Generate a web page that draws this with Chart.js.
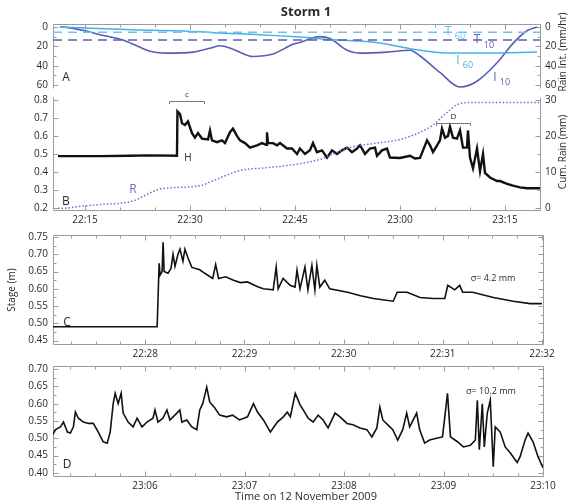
<!DOCTYPE html>
<html><head><meta charset="utf-8">
<script src="https://cdn.jsdelivr.net/npm/chart.js@4"></script>
<style>
html,body{margin:0;padding:0;background:#fff;}
#wrap{position:relative;width:571px;height:503px;overflow:hidden;}
canvas{position:absolute;left:0;top:0;}
</style></head><body>
<div id="wrap">
<canvas id="cA" width="571" height="503"></canvas>
<canvas id="cB" width="571" height="503"></canvas>
<canvas id="cC" width="571" height="503"></canvas>
<canvas id="cD" width="571" height="503"></canvas>
</div>
<script>
// ---------- DATA (time = minutes after 22:00 on 12 Nov 2009) ----------
// Panel A: rain intensity (mm/hr)
const i10Time  = [11.43,12.86,15.0,17.14,20.43,22.86,24.29,26.71,30.43,32.86,34.29,36.14,39.0,41.86,44.71,45.71,48.57,50.0,52.43,54.29,58.14,61.43,62.86,65.71,68.57,71.0,73.86,76.14,78.14,79.57];
const i10Value = [0,1,4,8,13.5,21,25,27,26,22,19.5,23,30.5,28,18,16,10,12,24,27,26,24,30,47,62,56,37,17,4,0];
const i60Time  = [11.43,21.86,31.43,33.29,40.0,45.71,50.0,57.14,61.86,66.71,72.43,79.57];
const i60Value = [0,3,5,6,8,10.5,13,16.5,23,27,27,26];
const t60Level = 5.6;
const t10Level = 13.5;
const aTickValues = [0,20,40,60];

// Panel B: stage H (m) and cumulative rain R (mm)
const stageBTime = [11.14,17.14,21.43,24.29,28.14,28.21,28.57,28.86,29.29,29.71,
 30.29,30.71,31.14,31.71,32.57,32.86,33.14,33.86,34.57,35.0,
 35.71,36.14,36.71,37.14,37.86,38.57,39.57,40.29,40.86,41.0,
 41.14,41.86,42.43,42.86,43.86,44.57,45.29,45.71,46.43,47.14,
 47.57,48.14,48.86,49.57,50.29,51.0,51.71,52.43,53.14,53.86,
 54.29,55.0,55.71,56.43,56.71,57.43,58.14,58.57,60.0,61.43,
 62.14,62.86,63.29,63.86,64.29,64.71,65.29,65.71,66.0,66.43,
 66.86,67.14,67.57,68.14,68.57,69.0,69.57,69.71,70.0,70.43,
 71.0,71.43,71.86,72.14,72.86,73.86,74.29,75.29,76.14,77.14,
 78.14,80.0];
const stageBValue = [0.488,0.488,0.49,0.492,0.49,0.735,0.72,0.67,0.66,0.68,
 0.615,0.59,0.615,0.585,0.58,0.63,0.575,0.565,0.575,0.56,
 0.62,0.64,0.60,0.575,0.56,0.535,0.548,0.56,0.55,0.62,
 0.56,0.56,0.548,0.56,0.53,0.53,0.50,0.53,0.50,0.52,
 0.56,0.51,0.52,0.48,0.52,0.50,0.52,0.535,0.51,0.53,
 0.548,0.50,0.53,0.535,0.49,0.52,0.53,0.48,0.478,0.49,
 0.475,0.478,0.52,0.575,0.548,0.51,0.548,0.575,0.64,0.59,
 0.60,0.65,0.59,0.585,0.63,0.535,0.535,0.63,0.48,0.42,
 0.53,0.405,0.50,0.395,0.37,0.35,0.35,0.335,0.325,0.315,
 0.31,0.31];
const rainTime = [11.14,11.86,14.71,17.14,21.86,24.29,25.71,31.43,33.29,37.14,41.0,45.71,48.57,50.43,52.86,56.71,60.0,62.86,64.71,66.43,68.14,69.57,80.0];
const rainCum  = [0,0,0.6,1,2,4.2,5.3,6.2,7.6,10.4,11.2,12.3,13.5,15,16.8,18,19,21,23,26,28.6,29.2,29.2];
const bTickValues = [15,30,45,60,75];
const bTickLabels = ['22:15','22:30','22:45','23:00','23:15'];
const bStageTicks = [0.2,0.3,0.4,0.5,0.6,0.7,0.8];
const bRainTicks = [0,10,20,30];

// Panel C: zoom of the rising limb (sigma = 4.2 mm)
const stageCTime = [27.06,27.55,28.12,28.14,28.15,28.17,28.18,28.19,28.23,28.26,
 28.28,28.30,28.33,28.35,28.38,28.40,28.43,28.47,28.55,28.60,
 28.68,28.71,28.74,28.81,28.89,28.96,29.03,29.09,29.14,29.19,
 29.26,29.29,29.32,29.34,29.39,29.46,29.51,29.53,29.56,29.61,
 29.64,29.68,29.71,29.73,29.76,29.81,29.86,30.04,30.17,30.30,
 30.50,30.54,30.64,30.77,30.90,31.02,31.05,31.12,31.17,31.20,
 31.30,31.51,31.71,31.88,32.0];
const stageCValue = [0.49,0.49,0.49,0.674,0.64,0.65,0.735,0.65,0.645,0.66,
 0.70,0.665,0.70,0.715,0.68,0.715,0.69,0.662,0.655,0.645,
 0.63,0.670,0.63,0.635,0.625,0.618,0.62,0.612,0.605,0.60,
 0.598,0.597,0.663,0.60,0.63,0.61,0.605,0.654,0.60,0.663,
 0.597,0.668,0.597,0.668,0.605,0.625,0.60,0.59,0.58,0.572,
 0.564,0.59,0.59,0.575,0.572,0.572,0.61,0.597,0.61,0.59,
 0.59,0.575,0.564,0.557,0.557];
const cTickValues = [28,29,30,31,32];
const cTickLabels = ['22:28','22:29','22:30','22:31','22:32'];
const cStageTicks = [0.45,0.50,0.55,0.60,0.65,0.70,0.75];
const cRange = [27.07,32.01];

// Panel D: zoom of the peak (sigma = 10.2 mm)
const stageDTime = [65.07,65.10,65.15,65.18,65.22,65.25,65.28,65.30,65.33,65.38,
 65.43,65.48,65.53,65.58,65.62,65.65,65.68,65.70,65.73,65.76,
 65.78,65.83,65.88,65.92,65.97,66.02,66.08,66.10,66.13,66.18,
 66.22,66.25,66.30,66.35,66.37,66.42,66.47,66.52,66.55,66.58,
 66.62,66.65,66.70,66.75,66.82,66.88,66.95,67.03,67.09,67.13,
 67.19,67.26,67.33,67.39,67.43,67.46,67.51,67.56,67.59,67.64,
 67.69,67.74,67.79,67.84,67.91,67.96,68.03,68.09,68.16,68.23,
 68.28,68.33,68.36,68.39,68.44,68.49,68.54,68.59,68.63,68.66,
 68.73,68.76,68.81,68.86,68.93,68.99,69.04,69.07,69.14,69.20,
 69.27,69.32,69.34,69.36,69.39,69.41,69.44,69.47,69.50,69.52,
 69.57,69.62,69.67,69.74,69.77,69.82,69.85,69.90,69.95,70.0];
const stageDValue = [0.51,0.525,0.533,0.547,0.518,0.515,0.533,0.576,0.558,0.547,
 0.543,0.543,0.518,0.49,0.486,0.518,0.60,0.63,0.60,0.63,
 0.573,0.547,0.533,0.558,0.533,0.547,0.558,0.582,0.547,0.558,
 0.582,0.553,0.567,0.582,0.547,0.553,0.533,0.525,0.582,0.60,
 0.648,0.605,0.588,0.567,0.562,0.567,0.553,0.562,0.60,0.576,
 0.553,0.518,0.547,0.562,0.576,0.562,0.63,0.596,0.582,0.558,
 0.547,0.567,0.553,0.53,0.573,0.562,0.543,0.539,0.53,0.525,
 0.504,0.53,0.59,0.553,0.539,0.525,0.495,0.525,0.573,0.533,
 0.573,0.525,0.486,0.495,0.50,0.504,0.63,0.504,0.49,0.475,
 0.48,0.495,0.61,0.467,0.60,0.475,0.573,0.61,0.418,0.533,
 0.518,0.475,0.458,0.43,0.447,0.495,0.515,0.49,0.447,0.415];
const dTickValues = [66,67,68,69,70];
const dTickLabels = ['23:06','23:07','23:08','23:09','23:10'];
const dStageTicks = [0.40,0.45,0.50,0.55,0.60,0.65,0.70];
const dRange = [65.075,70.0];

// ---------- STYLE / HELPERS ----------
const FF = "'Open Sans','Liberation Sans',Arial,sans-serif";
const DARKBLUE = '#5a5db4', LIGHTBLUE = '#45b2e6', DASHLIGHT = '#6cc6f0', RAINBLUE = '#6a6fd2';
const TXT = '#2a2a2a';
const abRange = [10.43, 80.0];

function pts(xs, ys){ return xs.map((x,i)=>({x:x, y:ys[i]})); }
function setTicks(vals){ return s => { s.ticks = vals.map(v=>({value:v})); }; }
function steps(a,b,d){ const r=[]; for(let v=a; v<=b+1e-9; v+=d) r.push(+v.toFixed(4)); return r; }
const hideGrid = {display:false, drawTicks:false};
const noBorder = {display:false};
const tickFont = {family:FF, size:10};

function drawText(ctx, it){
  ctx.save();
  ctx.font = (it.weight||'normal') + ' ' + (it.size||10) + 'px ' + FF;
  ctx.fillStyle = it.color || TXT;
  ctx.textAlign = it.align || 'center';
  ctx.textBaseline = 'middle';
  ctx.translate(it.x, it.y);
  if (it.rot) ctx.rotate(it.rot);
  ctx.fillText(it.text, 0, 0);
  ctx.restore();
}
function makeTexts(items){
  return {id:'texts', afterDraw(chart){ items.forEach(it=>drawText(chart.ctx, it)); }};
}
function makeFrame(cfg){
  return {id:'frame', beforeDatasetsDraw(chart){
    const ctx = chart.ctx, ca = chart.chartArea, xs = chart.scales.x;
    const L=Math.round(ca.left)+0.5, R=Math.round(ca.right)+0.5, T=Math.round(ca.top)+0.5, B=Math.round(ca.bottom)+0.5;
    ctx.save();
    ctx.strokeStyle = '#9c9c9c'; ctx.lineWidth = 1;
    ctx.beginPath();
    if (cfg.top){ ctx.moveTo(L,T); ctx.lineTo(R,T); }
    if (cfg.bottom){ ctx.moveTo(L,B); ctx.lineTo(R,B); }
    if (cfg.left){ ctx.moveTo(L,T); ctx.lineTo(L,B); }
    if (cfg.right){ ctx.moveTo(R,T); ctx.lineTo(R,B); }
    const xt = (vals,len) => vals.forEach(v=>{
      const p = Math.round(xs.getPixelForValue(v))+0.5;
      if (p<L-0.1||p>R+0.1) return;
      if (cfg.top){ ctx.moveTo(p,T); ctx.lineTo(p,T+len); }
      if (cfg.bottom){ ctx.moveTo(p,B); ctx.lineTo(p,B-len); }
    });
    xt(cfg.xMajor||[],5); xt(cfg.xMinor||[],3);
    const yt = (sc, vals, len, side) => vals.forEach(v=>{
      const p = Math.round(sc.getPixelForValue(v))+0.5;
      if (p<T-0.1||p>B+0.1) return;
      if (side==='l'){ ctx.moveTo(L,p); ctx.lineTo(L+len,p); }
      else { ctx.moveTo(R,p); ctx.lineTo(R-len,p); }
    });
    if (cfg.yLeft){ const sc=chart.scales[cfg.yLeft.id]; yt(sc,cfg.yLeft.major,5,'l'); yt(sc,cfg.yLeft.minor||[],3,'l'); }
    if (cfg.yRight){ const sc=chart.scales[cfg.yRight.id]; yt(sc,cfg.yRight.major,5,'r'); yt(sc,cfg.yRight.minor||[],3,'r'); }
    ctx.stroke();
    ctx.restore();
  }};
}
const baseOpts = (padding) => ({
  responsive:false, animation:false, devicePixelRatio:1,
  layout:{padding:padding},
  plugins:{legend:{display:false}, tooltip:{enabled:false}, title:{display:false}},
  elements:{point:{radius:0}}
});
function leftAxis(min,max,vals,fmt,extra){
  return Object.assign({type:'linear', position:'left', min:min, max:max, grid:hideGrid, border:noBorder,
    afterFit:s=>{s.width=53;}, afterBuildTicks:setTicks(vals),
    ticks:{font:tickFont, color:TXT, padding:5, callback:fmt}}, extra||{});
}
function xAxis(min,max,vals,labels,h,show){
  return {type:'linear', position:'bottom', min:min, max:max, display:show, grid:hideGrid, border:noBorder,
    afterFit:s=>{s.height=h;}, afterBuildTicks:setTicks(vals),
    ticks:{font:tickFont, color:TXT, padding:4, maxRotation:0, autoSkip:false, callback:(v,i)=>labels ? labels[i] : ''}};
}
const ROT = -Math.PI/2;

// ---------- PANEL A ----------
new Chart(document.getElementById('cA'), {
  type:'line',
  data:{datasets:[
    {data:pts(abRange,[t60Level,t60Level]), borderColor:DASHLIGHT, borderWidth:1.5, borderDash:[9,6], yAxisID:'y'},
    {data:pts(abRange,[t10Level,t10Level]), borderColor:DARKBLUE, borderWidth:1.5, borderDash:[9,6], yAxisID:'y'},
    {data:pts(i60Time,i60Value), borderColor:LIGHTBLUE, borderWidth:1.5, cubicInterpolationMode:'monotone', yAxisID:'y'},
    {data:pts(i10Time,i10Value), borderColor:DARKBLUE, borderWidth:1.6, cubicInterpolationMode:'monotone', yAxisID:'y'}
  ]},
  options:Object.assign(baseOpts({left:0,right:0,top:24,bottom:415}), {
    scales:{
      x:xAxis(abRange[0],abRange[1],bTickValues,null,0,false),
      y:leftAxis(-3,63,aTickValues,v=>String(v),{reverse:true}),
      y2:{type:'linear', position:'right', reverse:true, min:-3, max:63, grid:hideGrid, border:noBorder,
        afterFit:s=>{s.width=31;}, afterBuildTicks:setTicks(aTickValues),
        ticks:{font:tickFont, color:TXT, padding:5, callback:v=>String(v)}}
    }
  }),
  plugins:[
    makeFrame({top:true,left:true,right:true, xMajor:bTickValues, xMinor:steps(15,80,5),
      yLeft:{id:'y',major:aTickValues,minor:[10,30,50]}, yRight:{id:'y2',major:aTickValues,minor:[10,30,50]}}),
    makeTexts([
      {text:'Storm 1', x:306, y:12, size:13, weight:'bold'},
      {text:'A', x:66, y:78, size:12},
      {text:'T', x:448, y:32, size:12, color:DASHLIGHT},
      {text:'60', x:460, y:36, size:9, color:DASHLIGHT},
      {text:'T', x:477, y:40, size:12, color:DARKBLUE},
      {text:'10', x:489, y:45, size:9, color:DARKBLUE},
      {text:'I', x:458, y:61, size:12, color:LIGHTBLUE},
      {text:'60', x:468, y:65, size:9, color:LIGHTBLUE},
      {text:'I', x:495, y:78, size:12, color:DARKBLUE},
      {text:'10', x:505, y:82, size:9, color:DARKBLUE},
      {text:'Rain Int. (mm/hr)', x:563, y:52, size:10, rot:ROT}
    ])
  ]
});

// ---------- PANEL B ----------
new Chart(document.getElementById('cB'), {
  type:'line',
  data:{datasets:[
    {data:pts(rainTime,rainCum), borderColor:RAINBLUE, borderWidth:1.5, borderDash:[1.5,2], cubicInterpolationMode:'monotone', yAxisID:'y2'},
    {data:pts(stageBTime,stageBValue), borderColor:'#111', borderWidth:2.4, yAxisID:'y'}
  ]},
  options:Object.assign(baseOpts({left:0,right:0,top:97,bottom:273}), {
    scales:{
      x:xAxis(abRange[0],abRange[1],bTickValues,bTickLabels,20,true),
      y:leftAxis(0.19,0.815,bStageTicks,v=>v.toFixed(1)),
      y2:{type:'linear', position:'right', min:-0.5, max:30.75, grid:hideGrid, border:noBorder,
        afterFit:s=>{s.width=31;}, afterBuildTicks:setTicks(bRainTicks),
        ticks:{font:tickFont, color:TXT, padding:5, callback:v=>String(v)}}
    }
  }),
  plugins:[
    makeFrame({bottom:true,left:true,right:true, xMajor:bTickValues, xMinor:steps(15,80,5),
      yLeft:{id:'y',major:bStageTicks}, yRight:{id:'y2',major:bRainTicks,minor:[5,15,25]}}),
    makeTexts([
      {text:'B', x:66, y:202, size:12},
      {text:'H', x:188, y:158, size:10},
      {text:'R', x:133, y:190, size:12, color:RAINBLUE},
      {text:'Cum. Rain (mm)', x:563, y:152, size:10, rot:ROT}
    ]),
    {id:'brackets', afterDraw(chart){
      const ctx=chart.ctx, xs=chart.scales.x;
      [[cRange,101,'c'],[dRange,123,'D']].forEach(([r,y,lab])=>{
        const a=Math.round(xs.getPixelForValue(r[0]))+0.5, b=Math.round(xs.getPixelForValue(r[1]))+0.5;
        ctx.save(); ctx.strokeStyle='#777'; ctx.lineWidth=1; ctx.beginPath();
        ctx.moveTo(a,y+3); ctx.lineTo(a,y+0.5); ctx.lineTo(b,y+0.5); ctx.lineTo(b,y+3); ctx.stroke(); ctx.restore();
        drawText(ctx,{text:lab, x:(a+b)/2, y:y-6, size:8});
      });
    }}
  ]
});

// ---------- PANEL C ----------
new Chart(document.getElementById('cC'), {
  type:'line',
  data:{datasets:[
    {data:pts(stageCTime,stageCValue), borderColor:'#111', borderWidth:1.6, yAxisID:'y'}
  ]},
  options:Object.assign(baseOpts({left:0,right:28,top:235,bottom:141}), {
    scales:{
      x:xAxis(cRange[0],cRange[1],cTickValues,cTickLabels,18,true),
      y:leftAxis(0.44,0.756,cStageTicks,v=>v.toFixed(2))
    }
  }),
  plugins:[
    makeFrame({top:true,bottom:true,left:true,right:true, xMajor:cTickValues, xMinor:steps(27.25,32,0.25),
      yLeft:{id:'y',major:cStageTicks,minor:steps(0.45,0.75,0.025)}, yRight:{id:'y',major:cStageTicks,minor:steps(0.45,0.75,0.025)}}),
    makeTexts([
      {text:'C', x:67, y:323, size:12},
      {text:'σ= 4.2 mm', x:493, y:278, size:9},
      {text:'Stage (m)', x:12, y:290, size:10, rot:ROT}
    ])
  ]
});

// ---------- PANEL D ----------
new Chart(document.getElementById('cD'), {
  type:'line',
  data:{datasets:[
    {data:pts(stageDTime,stageDValue), borderColor:'#111', borderWidth:1.6, yAxisID:'y'}
  ]},
  options:Object.assign(baseOpts({left:0,right:28,top:366,bottom:0}), {
    scales:{
      x:xAxis(dRange[0],dRange[1],dTickValues,dTickLabels,27,true),
      y:leftAxis(0.391,0.709,dStageTicks,v=>v.toFixed(2))
    }
  }),
  plugins:[
    makeFrame({top:true,bottom:true,left:true,right:true, xMajor:dTickValues, xMinor:steps(65.25,70,0.25),
      yLeft:{id:'y',major:dStageTicks,minor:steps(0.40,0.70,0.025)}, yRight:{id:'y',major:dStageTicks,minor:steps(0.40,0.70,0.025)}}),
    makeTexts([
      {text:'D', x:67, y:465, size:12},
      {text:'σ= 10.2 mm', x:491, y:391, size:9},
      {text:'Time on 12 November 2009', x:306, y:497, size:11}
    ])
  ]
});
</script>
</body></html>
